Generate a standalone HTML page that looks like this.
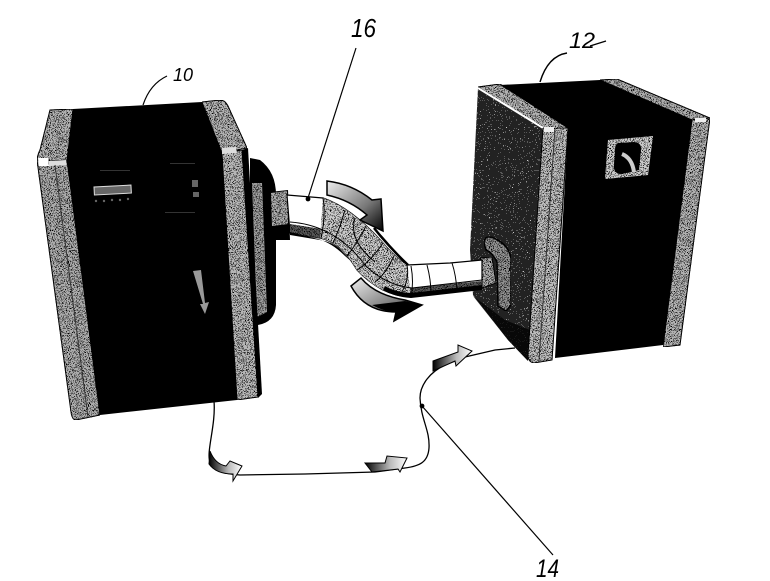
<!DOCTYPE html>
<html><head><meta charset="utf-8"><style>
html,body{margin:0;padding:0;background:#fff}
svg{display:block}
text{font-family:"Liberation Sans",sans-serif;font-style:italic;fill:#000}
</style></head><body>
<svg width="770" height="581" viewBox="0 0 770 581" xmlns="http://www.w3.org/2000/svg">
<defs>
<filter id="st" x="0" y="0" width="100%" height="100%">
<feTurbulence type="fractalNoise" baseFrequency="1.05" numOctaves="2" seed="4"/>
<feColorMatrix type="matrix" values="0 0 0 0 0 0 0 0 0 0 0 0 0 0 0 2.4 2.4 0 0 -2.2"/>
<feComponentTransfer><feFuncA type="discrete" tableValues="0 1"/></feComponentTransfer>
<feComposite in2="SourceGraphic" operator="in" result="n"/>
<feMerge><feMergeNode in="SourceGraphic"/><feMergeNode in="n"/></feMerge>
</filter>
<filter id="st2" x="0" y="0" width="100%" height="100%">
<feTurbulence type="fractalNoise" baseFrequency="0.95" numOctaves="2" seed="9"/>
<feColorMatrix type="matrix" values="0 0 0 0 1 0 0 0 0 1 0 0 0 0 1 2.4 2.4 0 0 -2.7"/>
<feComponentTransfer><feFuncA type="discrete" tableValues="0 1"/></feComponentTransfer>
<feComposite in2="SourceGraphic" operator="in" result="n"/>
<feMerge><feMergeNode in="SourceGraphic"/><feMergeNode in="n"/></feMerge>
</filter>
<linearGradient id="a1" x1="0" y1="0" x2="1" y2="1">
<stop offset="0" stop-color="#eee"/><stop offset=".6" stop-color="#777"/><stop offset="1" stop-color="#000"/>
</linearGradient>
<linearGradient id="a2" x1="1" y1="0" x2="0" y2="0">
<stop offset="0" stop-color="#fff"/><stop offset=".4" stop-color="#bbb"/><stop offset="1" stop-color="#000"/>
</linearGradient>
<linearGradient id="band" x1="0" y1="0" x2="0" y2="1">
<stop offset="0" stop-color="#bbb"/><stop offset=".5" stop-color="#666"/><stop offset="1" stop-color="#000"/>
</linearGradient>
</defs>

<!-- Left unit back plate -->
<path d="M250 158 L260 160 Q276 172 276 195 L276 305 Q275 322 258 325 L250 322Z" fill="#000"/>
<path d="M252 183 L262 183 L267 312 L257 317Z" fill="#9a9a9a" filter="url(#st)"/>
<path d="M270 192 L288 190 L290 240 L272 240Z" fill="#000"/>
<path d="M271 193 L287 191 L288 224 L272 226Z" fill="#a8a8a8" filter="url(#st)"/>

<!-- Left unit -->
<path d="M73 109 L202 102 L222 153 L237 400 L100 415 L67 160Z" fill="#000"/>
<path d="M50 110 L73 109 L67 160 L37 163 Q37 155 40 150 Z" fill="#b0b0b0" stroke="#000" stroke-width="1" filter="url(#st)"/>
<path d="M37 160 L67 160 L100 415 L76 420 Q72 420 71 412Z" fill="#aaa" stroke="#000" stroke-width="1" filter="url(#st)"/>
<path d="M38 158 L48 158 L49 166 L39 166Z" fill="#fff"/>
<path d="M49 161 L66 160 L66 165 L49 166Z" fill="#ddd"/>
<path d="M55 165 L88 417" stroke="#333" stroke-width="1" fill="none"/>
<path d="M202 102 L220 100 Q225 100 228 106 L247 148 L222 153Z" fill="#b0b0b0" stroke="#000" stroke-width="1" filter="url(#st)"/>
<path d="M222 153 L242 150 L258 397 L237 400Z" fill="#b5b5b5" stroke="#000" stroke-width="1" filter="url(#st)"/>
<path d="M222 148 L236 147 L237 153 L222 154Z" fill="#ddd"/>
<path d="M242 150 L248 148 L262 394 L258 398Z" fill="#000"/>
<rect x="94" y="187" width="37" height="8" transform="rotate(-3 94 187)" fill="#666" stroke="#ddd" stroke-width="1"/>
<g fill="#666"><circle cx="96" cy="201" r="1.2"/><circle cx="104" cy="201" r="1.2"/><circle cx="112" cy="200" r="1.2"/><circle cx="120" cy="200" r="1.2"/><circle cx="128" cy="199" r="1.2"/>
<rect x="192" y="180" width="6" height="7"/><rect x="193" y="192" width="6" height="5"/></g>
<g fill="#333"><rect x="100" y="170" width="30" height="1"/><rect x="170" y="163" width="25" height="1"/><rect x="165" y="212" width="30" height="1"/></g>
<path d="M193 271 L201 270 L205 303 L209 302 L205 314 L200 304 L203 304Z" fill="#999"/>

<!-- Right unit -->
<path d="M478 88 L543 128 L528 361 L508 340 L473 295 L470 250Z" fill="#222" filter="url(#st2)"/>
<path d="M473 296 L508 340 L528 361 L530 330 L505 320Z" fill="#000" opacity=".75"/>
<path d="M478 87 L500 84 L568 128 L543 129Z" fill="#b0b0b0" stroke="#000" stroke-width="1" filter="url(#st)"/>
<path d="M478 88 L543 128" stroke="#fff" stroke-width="2" fill="none"/>
<path d="M500 85 L600 80 L692 120 L663 345 L555 358 L568 128Z" fill="#000"/>
<path d="M543 128 L568 128 L552 360 L534 363 Q528 362 528 355Z" fill="#bbb" stroke="#000" stroke-width="1" filter="url(#st)"/>
<path d="M555 129 L539 361" stroke="#333" stroke-width="1" fill="none"/>
<path d="M544 127 L554 127 L554 132 L544 132Z" fill="#eee"/>
<path d="M600 80 L617 79 L710 118 L692 120Z" fill="#aaa" stroke="#000" stroke-width="1" filter="url(#st)"/>
<path d="M692 120 L710 118 L680 345 L663 347Z" fill="#b0b0b0" stroke="#000" stroke-width="1" filter="url(#st)"/>
<path d="M695 118 L706 118 L706 122 L695 122Z" fill="#eee"/>
<path d="M608 140 L653 136 L648 175 L605 179Z" fill="#c8c8c8" filter="url(#st)"/>
<path d="M618 143 L634 142 Q642 143 641 150 L639 170 L622 174 Q613 174 614 165 L615 150 Q615 144 618 143Z" fill="#000"/>
<path d="M622 154 Q632 158 634 172" stroke="#ccc" stroke-width="4" fill="none"/>
<!-- Right elbow fitting -->
<path d="M484 243 Q484 236 491 237 Q508 243 511 258 L511 305 L506 311 L498 306 L497 262 Q492 252 486 250Z" fill="#8e8e8e" stroke="#000" stroke-width="1.5" filter="url(#st)"/>
<path d="M480 258 L492 257 L496 283 L482 288Z" fill="#a8a8a8" stroke="#000" filter="url(#st)"/>

<!-- Duct -->
<path d="M287 195 L323 198 Q352 208 383 243 Q396 258 407 265 L450 263 L482 260 L482 288 L410 297 Q395 296 383 290 Q368 282 357 270 Q348 255 340 248 Q330 240 320 238 L290 233Z" fill="#fff" stroke="#000" stroke-width="1.2"/>
<path d="M290 224 L322 229 Q338 235 347 247 Q358 262 372 274 L410 288 L482 281 L482 288 L410 297 Q395 296 383 290 Q368 282 357 270 Q348 255 340 248 Q330 240 320 238 L290 233Z" fill="#555" filter="url(#st)"/>
<path d="M323 198 Q352 208 383 243 Q396 258 407 265 L411 296 Q395 296 383 290 Q368 282 357 270 Q348 255 340 248 Q330 240 320 238Z" fill="#c8c8c8" filter="url(#st)"/>
<path d="M290 235 L320 240 Q332 242 340 249 L352 262 L345 256 Q332 243 318 239 L290 232Z" fill="#000"/>
<path d="M383 290 Q395 297 411 298 L482 290 L482 285 L411 293 Q395 292 385 286Z" fill="#000"/>
<path d="M374 228 Q390 248 408 265" stroke="#000" stroke-width="2.5" fill="none"/>
<g stroke="#000" stroke-width="1" fill="none">
<path d="M323 198 Q326 215 321 238"/><path d="M345 210 Q340 228 333 243"/><path d="M366 226 Q356 245 347 256"/><path d="M383 243 Q370 262 357 270"/><path d="M394 256 Q385 275 375 282"/>
<path d="M407 265 Q410 280 400 295"/><path d="M411 266 Q414 282 411 297"/><path d="M427 265 Q431 280 431 294"/><path d="M452 263 Q456 275 457 291"/>
<path d="M290 222 Q335 225 365 265 Q385 285 412 288"/><path d="M412 288 L482 280"/>
<path d="M355 218 Q348 240 375 262"/>
</g>

<!-- Duct arrows -->
<path d="M327 181 Q352 184 372 200 L381 199 L383 231 L360 220 L367 215 Q350 200 327 195Z" fill="url(#a1)" stroke="#000" stroke-width="1.5"/>
<path d="M351 286 L361 278 Q375 295 405 300 L422 305 L394 321 L396 312 Q365 312 351 286Z" fill="url(#a1)" stroke="#000" stroke-width="1.5"/>
<path d="M372 305 Q385 312 396 312 L394 321 L422 305 L405 301Z" fill="#000"/>

<!-- Cable -->
<g stroke="#000" fill="none">
<path d="M214 401 C216 425 206 452 210 462 C214 472 226 474 240 475 L305 474 L375 472 L405 468 C420 466 428 462 429 448 C430 430 421 420 420 398 C420 385 430 372 445 365 L465 357 L495 350 L515 348" stroke-width="1.3"/>
<path d="M422 406 L553 555" stroke-width="1.2"/>
<path d="M356 48 L308 198" stroke-width="1.2"/>
<path d="M143 105 Q150 84 167 76" stroke-width="1.2"/>
<path d="M540 82 Q548 56 567 53" stroke-width="1.4"/>
</g>
<circle cx="422" cy="406" r="2.4" fill="#000"/>
<circle cx="308" cy="199" r="2.4" fill="#000"/>

<!-- Cable arrows -->
<path d="M210 451 Q215 464 226 466 L230 461 L242 466 L233 481 L233 474 Q216 474 209 464Z" fill="url(#a2)" stroke="#000" stroke-width="1"/>
<path d="M365 463 L385 463 L387 456 L407 458 L400 472 L398 469 L372 472Z" fill="url(#a2)" stroke="#000" stroke-width="1"/>
<path d="M433 361 L458 352 L458 345 L472 351 L456 366 L455 361 L433 371Z" fill="url(#a2)" stroke="#000" stroke-width="1"/>

<!-- Labels -->
<text x="351" y="37" font-size="26" textLength="25" lengthAdjust="spacingAndGlyphs">16</text>
<text x="173" y="81" font-size="18" textLength="20" lengthAdjust="spacingAndGlyphs">10</text>
<text x="569" y="48" font-size="22" textLength="26" lengthAdjust="spacingAndGlyphs">12</text>
<text x="536" y="577" font-size="25" textLength="23" lengthAdjust="spacingAndGlyphs">14</text>
<path d="M590 46 L606 41" stroke="#000" stroke-width="1.3" fill="none"/>
</svg>
</body></html>
